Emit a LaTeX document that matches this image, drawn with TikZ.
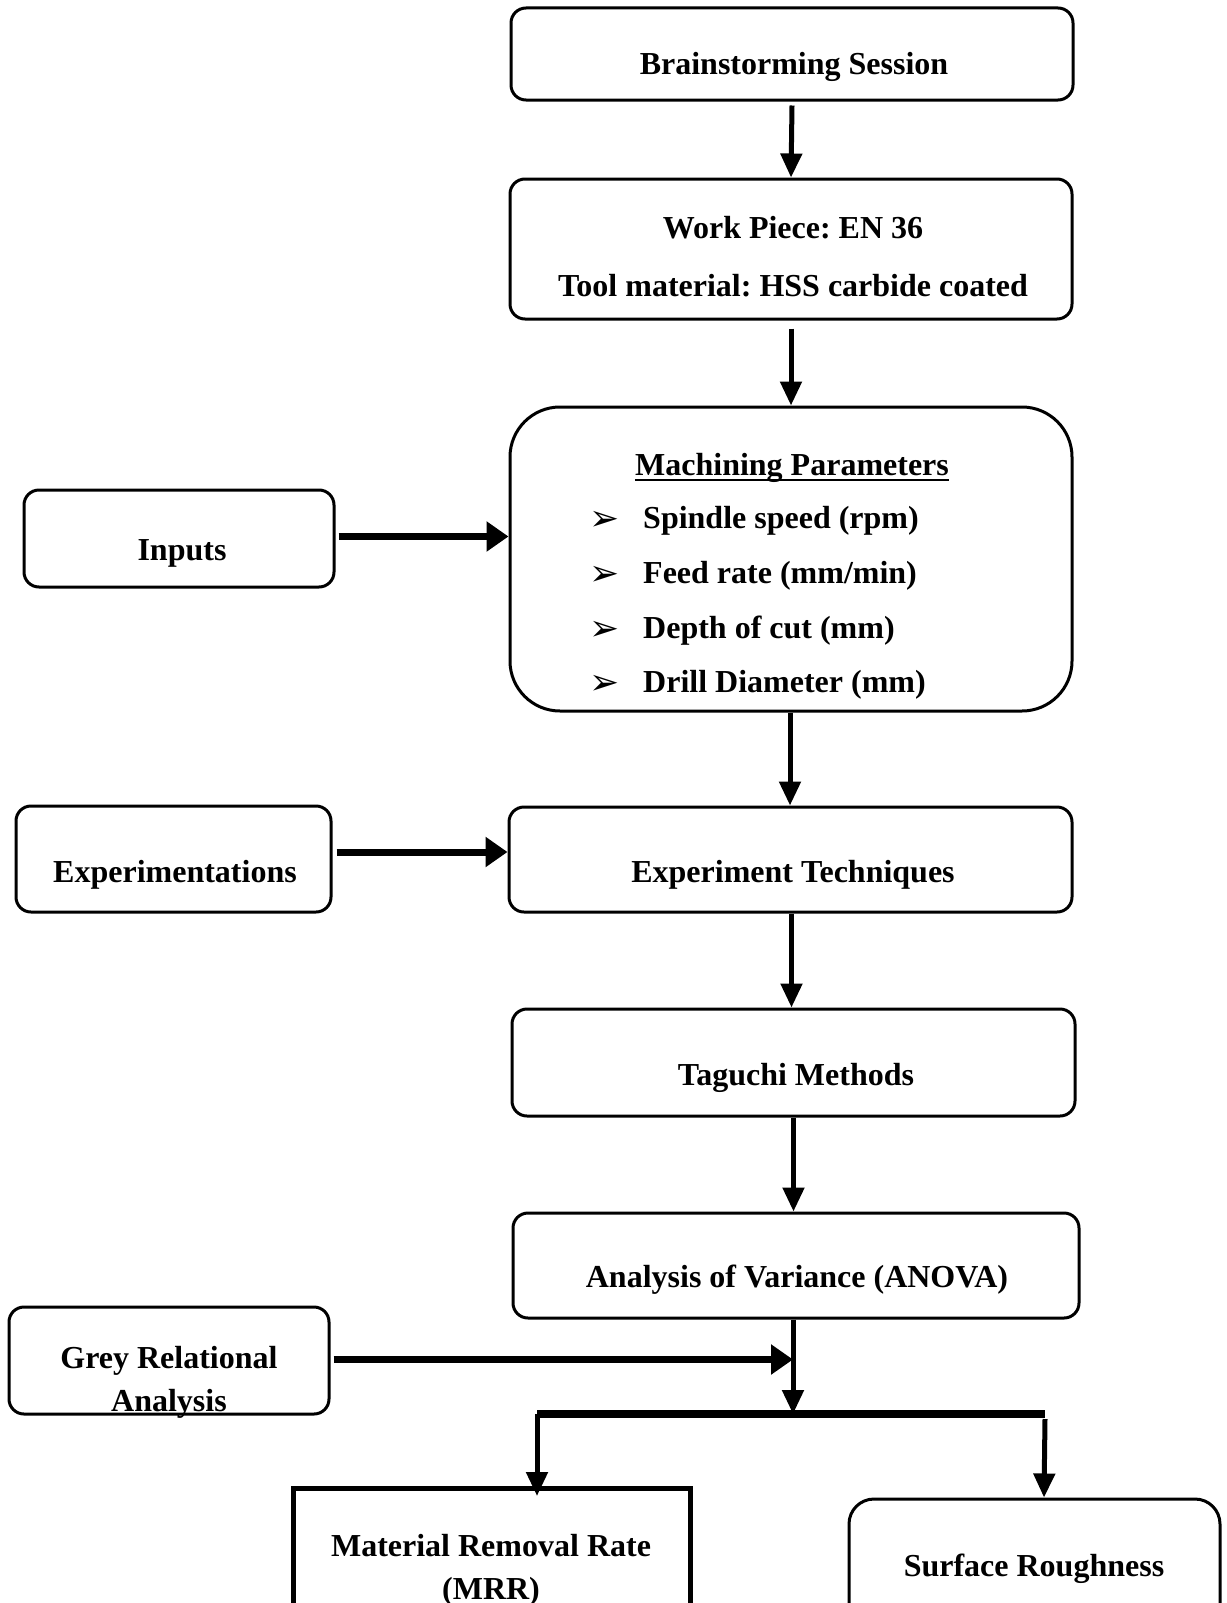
\documentclass[tikz,border=0pt]{standalone}
\usepackage{fontspec}
\setmainfont{Liberation Serif}
\newfontfamily\dejavu{DejaVu Sans}
\usetikzlibrary{arrows.meta}
\frenchspacing
\begin{document}
\begin{tikzpicture}[x=1pt,y=-1pt,
  box/.style={draw,line width=3pt,rounded corners=15pt,inner sep=0pt},
  txt/.style={inner sep=0pt,align=center,font=\frenchspacing\fontsize{32}{43}\selectfont\bfseries},
  itemtxt/.style={inner sep=0pt,anchor=west,font=\frenchspacing\fontsize{32}{40}\selectfont\bfseries},
  bul/.style={inner sep=0pt,font=\dejavu\fontsize{36}{40}\selectfont},
  varrow/.style={line width=5pt,-{Triangle[length=24pt,width=21pt]}},
  harrow/.style={line width=7pt,-{Triangle[length=22pt,width=29pt]}}
]
\clip (0,0) rectangle (1226,1603);
\fill[white] (0,0) rectangle (1226,1603);

% boxes
\node[box,minimum width=562pt,minimum height=92pt] (brain) at (792,54) {};
\node[txt] (braint) at (794,67) {Brainstorming Session};

\node[box,minimum width=562pt,minimum height=140pt] (work) at (791,249) {};
\node[txt] (workt1) at (793,228) {Work Piece: EN 36};
\node[txt] (workt2) at (793,286) {Tool material: HSS carbide coated};

\node[box,rounded corners=50pt,minimum width=562pt,minimum height=304pt] (mach) at (791,559) {};
\node[txt,anchor=base] (macht) at (792,475) {Machining Parameters};
\draw[line width=2.5pt] ([yshift=-5pt]macht.base west) -- ([yshift=-5pt]macht.base east);
\node[bul] (b1) at (605,521) {➢};
\node[itemtxt] (i1) at (643,521) {Spindle speed (rpm)};
\node[bul] (b2) at (605,576) {➢};
\node[itemtxt] (i2) at (643,576) {Feed rate (mm/min)};
\node[bul] (b3) at (605,631) {➢};
\node[itemtxt] (i3) at (643,631) {Depth of cut (mm)};
\node[bul] (b4) at (605,685) {➢};
\node[itemtxt] (i4) at (643,685) {Drill Diameter (mm)};

\node[box,minimum width=310pt,minimum height=97pt] (inputs) at (179,538.5) {};
\node[txt] (inputst) at (182,553) {Inputs};

\node[box,minimum width=315pt,minimum height=106pt] (exper) at (173.5,859) {};
\node[txt] (expert) at (175,875) {Experimentations};

\node[box,minimum width=563pt,minimum height=105pt] (tech) at (790.5,859.5) {};
\node[txt] (techt) at (793,875) {Experiment Techniques};

\node[box,minimum width=563pt,minimum height=107pt] (tag) at (793.5,1062.5) {};
\node[txt] (tagt) at (796,1078) {Taguchi Methods};

\node[box,minimum width=566pt,minimum height=105pt] (anova) at (796,1265.5) {};
\node[txt] (anovat) at (797,1280) {Analysis of Variance (ANOVA)};

\node[box,minimum width=320pt,minimum height=107pt] (grey) at (169,1360.5) {};
\node[txt] (greyt) at (169,1382) {Grey Relational\\Analysis};

\node[draw,line width=5pt,minimum width=397pt,minimum height=140pt,inner sep=0pt] (mrr) at (491.5,1558) {};
\node[txt] (mrrt) at (491,1570) {Material Removal Rate\\(MRR)};

\node[box,rounded corners=25pt,minimum width=371pt,minimum height=150pt] (surf) at (1034.5,1574) {};
\node[txt] (surft) at (1034,1569) {Surface Roughness};

% connectors
\coordinate (j) at (793,1414);
\coordinate (bl) at (537,1414);
\coordinate (br) at (1045,1414);

\draw[varrow] ([yshift=-4pt]brain.south) -- (work.north);
\draw[varrow] ([yshift=-8pt]work.south) -- (mach.north);
\draw[harrow] ([xshift=3pt,yshift=2pt]inputs.east) -- ([yshift=2pt]inputs.east -| mach.west);
\draw[varrow] ([xshift=-1pt]mach.south) -- ([xshift=-1pt]mach.south |- tech.north);
\draw[harrow] ([xshift=4pt,yshift=7pt]exper.east) -- ([yshift=7pt]exper.east -| tech.west);
\draw[varrow] ([xshift=1pt]tech.south) -- ([xshift=1pt]tech.south |- tag.north);
\draw[varrow] (tag.south) -- (tag.south |- anova.north);
\draw[varrow] (anova.south -| j) -- (j);
\draw[harrow] ([xshift=3pt,yshift=1pt]grey.east) -- ([yshift=1pt]grey.east -| j);
\draw[line width=8pt] (bl) -- (br);
\draw[varrow] (bl) -- (bl |- 0,1496);
\draw[varrow] ([yshift=-5pt]br) -- ([xshift=-1pt]br |- surf.north);
\end{tikzpicture}
\end{document}
